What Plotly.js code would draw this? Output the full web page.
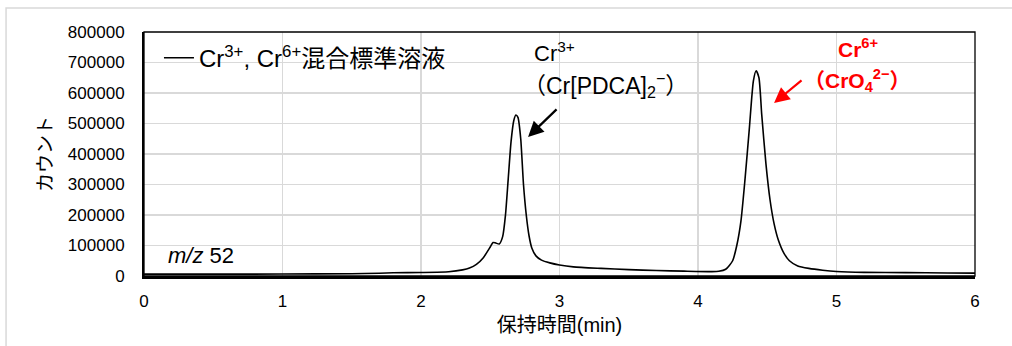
<!DOCTYPE html>
<html>
<head>
<meta charset="utf-8">
<script src="https://cdn.plot.ly/plotly-3.0.1.min.js"></script>
<style>html,body{margin:0;padding:0;background:#fff;}#chart{width:1012px;height:346px;}</style>
</head>
<body>
<div id="chart"></div>
<script>
// Retention time (min)
const retentionTime = [0, 0.5, 1.0, 1.5, 1.7, 1.8, 2.0, 2.2, 2.3, 2.35, 2.4, 2.45, 2.5, 2.52, 2.54, 2.565, 2.59, 2.61, 2.63, 2.65, 2.67, 2.685, 2.70, 2.72, 2.74, 2.76, 2.78, 2.80, 2.83, 2.87, 2.93, 3.0, 3.1, 3.3, 3.5, 3.7, 3.9, 4.1, 4.15, 4.2, 4.25, 4.28, 4.31, 4.34, 4.37, 4.40, 4.42, 4.44, 4.46, 4.49, 4.52, 4.55, 4.58, 4.62, 4.66, 4.72, 4.8, 4.9, 5.0, 5.2, 5.5, 5.8, 6.0];
// Counts (m/z 52)
const counts = [6000, 6000, 6500, 7500, 9000, 10500, 11500, 14000, 20000, 26000, 38000, 60000, 95000, 110000, 108000, 105000, 130000, 200000, 320000, 440000, 510000, 528000, 520000, 450000, 300000, 200000, 132000, 92000, 66000, 52000, 43000, 36000, 30000, 25000, 21000, 18000, 16000, 14500, 15500, 22000, 50000, 100000, 180000, 320000, 480000, 640000, 673000, 650000, 530000, 370000, 250000, 170000, 118000, 75000, 50000, 33000, 25000, 19000, 15000, 12000, 11000, 10000, 9500];

const seriesName = 'Cr<sup>3+</sup>, Cr<sup>6+</sup>混合標準溶液';
const xTickVals = [0, 1, 2, 3, 4, 5, 6];
const yTickVals = [0, 100000, 200000, 300000, 400000, 500000, 600000, 700000, 800000];
const xTitle = '保持時間(min)';
const yTitle = 'カウント';
const label3Line1 = 'Cr<sup>3+</sup>';
const label3Line2 = '（Cr[PDCA]<sub>2</sub><sup>−</sup>）';
const label6Line1 = '<b>Cr<sup>6+</sup></b>';
const label6Line2 = '<b>（CrO<sub>4</sub><sup>2−</sup>）</b>';
const mzLabel = '<i>m/z</i> 52';

const FONT = 'Liberation Sans, Arial, Noto Sans CJK JP, sans-serif';

const trace = {
  x: retentionTime,
  y: counts,
  type: 'scatter',
  mode: 'lines',
  name: seriesName,
  line: {color: '#000000', width: 1.6, shape: 'spline', smoothing: 0.6},
  showlegend: true
};

const layout = {
  width: 1012, height: 346,
  margin: {l: 144, r: 37, t: 32, b: 70},
  paper_bgcolor: '#ffffff',
  plot_bgcolor: '#ffffff',
  font: {family: FONT, color: '#000000', size: 17},
  showlegend: true,
  legend: {
    x: 0.018, y: 0.985, xanchor: 'left', yanchor: 'top',
    bgcolor: 'rgba(0,0,0,0)', borderwidth: 0,
    font: {family: FONT, size: 24, color: '#000000'}
  },
  xaxis: {
    range: [0, 6], tickvals: xTickVals, ticktext: xTickVals.map(String),
    showgrid: true, gridcolor: '#d9d9d9', gridwidth: 1.3,
    zeroline: false, showline: true, linecolor: '#000000', linewidth: 2.5,
    ticks: '', ticklabelstandoff: 8,
    tickfont: {family: FONT, size: 17, color: '#000000'},
    title: {text: xTitle, font: {family: FONT, size: 20, color: '#000000'}, standoff: 8}
  },
  yaxis: {
    range: [0, 800000], tickvals: yTickVals, ticktext: yTickVals.map(String),
    showgrid: true, gridcolor: '#d9d9d9', gridwidth: 1.3,
    zeroline: false, showline: true, linecolor: '#000000', linewidth: 2,
    ticks: '', ticklabelstandoff: 14,
    tickfont: {family: FONT, size: 17, color: '#000000'},
    title: {text: yTitle, font: {family: FONT, size: 19, color: '#000000'}, standoff: 10}
  },
  shapes: [
    {type: 'rect', xref: 'paper', yref: 'paper', x0: 0, x1: 1, y0: 0, y1: 1,
     line: {color: '#000000', width: 1.3}, layer: 'above'},
    {type: 'path', xref: 'paper', yref: 'paper',
     path: 'M -0.166 -0.3 L -0.166 1.098 L 1.06 1.098',
     line: {color: '#d9d9d9', width: 1.5}}
  ],
  annotations: [
    {x: 2.80, y: 735000, xref: 'x', yref: 'y', text: label3Line1, showarrow: false,
     xanchor: 'left', yanchor: 'middle', font: {family: FONT, size: 22, color: '#000000'}},
    {x: 2.725, y: 626000, xref: 'x', yref: 'y', text: label3Line2, showarrow: false,
     xanchor: 'left', yanchor: 'middle', font: {family: FONT, size: 23, color: '#000000'}},
    {x: 5.155, y: 748000, xref: 'x', yref: 'y', text: label6Line1, showarrow: false,
     xanchor: 'center', yanchor: 'middle', font: {family: FONT, size: 21, color: '#ff0000'}},
    {x: 5.155, y: 640000, xref: 'x', yref: 'y', text: label6Line2, showarrow: false,
     xanchor: 'center', yanchor: 'middle', font: {family: FONT, size: 21, color: '#ff0000'}},
    {x: 2.773, y: 456000, xref: 'x', yref: 'y', text: '', showarrow: true,
     ax: 30, ay: -29, arrowhead: 2, arrowsize: 1.4, arrowwidth: 2.2, arrowcolor: '#000000'},
    {x: 4.549, y: 567000, xref: 'x', yref: 'y', text: '', showarrow: true,
     ax: 29, ay: -24, arrowhead: 2, arrowsize: 1.4, arrowwidth: 2.2, arrowcolor: '#ff0000'},
    {x: 0.16, y: 66000, xref: 'x', yref: 'y', text: mzLabel, showarrow: false,
     xanchor: 'left', yanchor: 'middle', font: {family: FONT, size: 22, color: '#000000'}}
  ]
};

Plotly.newPlot('chart', [trace], layout, {displayModeBar: false, staticPlot: true});
</script>
</body>
</html>
